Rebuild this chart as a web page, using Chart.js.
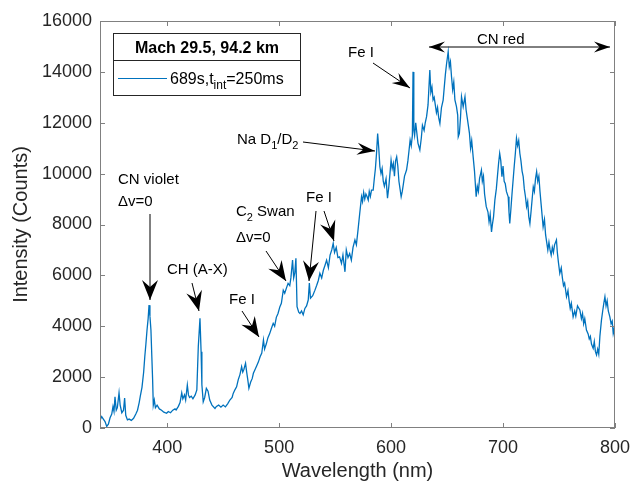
<!DOCTYPE html>
<html>
<head>
<meta charset="utf-8">
<script src="https://cdn.jsdelivr.net/npm/chart.js@4.4.1/dist/chart.umd.min.js"></script>
<style>
  html, body { margin: 0; padding: 0; background: #fff; }
  #wrap { width: 631px; height: 487px; }
</style>
</head>
<body>
<div id="wrap"><canvas id="spectrum" width="631" height="487"></canvas></div>
<script>
// spectrum (nm, counts)
const wavelength = [
  340, 341.5, 343, 344.5, 346, 347.5, 349, 350.5, 351.6, 352.5, 353.4, 354.5, 355.5, 357, 358, 359.5,
  361, 362, 363, 364.5, 366, 368, 370, 372, 373.5, 375, 376, 377.5, 379, 380, 381, 382,
  383, 383.8, 384.6, 385.5, 386.3, 387, 387.6, 388.5, 389.5, 391, 393, 395, 397, 399.5, 401, 403,
  405, 407, 408, 410, 411.5, 413, 414, 415.5, 416.5, 418, 419, 420, 421.5, 423, 425, 426.5,
  427.8, 429.3, 430.3, 431, 432.2, 433.5, 435, 436.5, 438, 440, 442.7, 444, 446, 448, 450, 452,
  454, 456, 458, 459, 460.5, 462, 463.5, 465, 466.5, 467.5, 468.5, 470, 471, 472, 473, 474.5,
  476, 477, 478.5, 480, 481.5, 483, 484.5, 486, 487, 488.5, 490, 491.5, 493, 494.7, 496, 497.5,
  499, 500.7, 502, 503.7, 505, 506.5, 508, 509.5, 510.5, 512, 513, 514, 515, 516, 517.5, 518.6,
  520, 521.5, 523, 524.5, 526, 527, 528, 530, 532, 533.5, 535, 536.4, 538, 539.5, 541, 542.4,
  544, 545.5, 547, 548.3, 549.5, 551, 552.5, 554, 555.7, 557, 558.8, 560, 561.5, 563, 564.5, 566,
  567.7, 569, 570.5, 572, 573.6, 574.5, 575.5, 576.5, 577.5, 578.5, 579.6, 580.5, 581.5, 582.5, 584, 585,
  586, 587, 588, 589, 590, 591, 592, 593, 594, 595.5, 596.8, 598, 599, 600, 601, 602,
  603, 604, 605, 606, 607, 608, 609, 610, 611, 612, 613.8, 615, 616, 617, 618, 619,
  619.6, 620.3, 621, 622, 623, 624, 625.7, 627, 628, 629.5, 630.5, 631.7, 633, 634.6, 635.5, 636.5,
  637.5, 638.5, 639.5, 640.5, 641.5, 642.5, 643.6, 645, 646.5, 647.5, 648.5, 649.5, 651, 652, 653, 654,
  655, 656, 657, 658.4, 659.5, 660, 661, 662, 662.9, 664.4, 666, 667, 668, 669, 670, 671,
  672, 673.3, 674.5, 676, 677, 678, 679, 680.7, 681.5, 682.5, 683.5, 685, 686.5, 687.5, 688.5, 689.7,
  690.5, 691.5, 692.7, 694, 695, 696, 697, 698, 699, 700, 701, 702, 703, 704.6, 705.3, 706,
  707, 708, 709, 710, 711, 712, 713, 714, 715, 716, 717, 718, 719, 720, 721, 722,
  723, 724, 725, 726, 727, 728, 729, 730, 731, 732, 733, 734, 735.8, 737, 738, 739,
  740, 741, 742, 743, 744, 745, 746, 747.7, 748.5, 749.5, 750.7, 752, 753, 754, 755, 756.7,
  758, 759, 760, 761, 762.6, 764, 765, 766.5, 768.6, 770, 771, 772, 773, 774.5, 776, 777,
  778, 779, 780.5, 781.5, 782.5, 783.5, 784.5, 785.5, 786.5, 787.9, 789, 790, 791, 792, 793, 794,
  795.4, 796.5, 797.5, 798.4, 799.2, 800
];
const intensity = [
  300, 450, 350, 250, 60, 150, 400, 550, 840, 650, 1230, 700, 800, 1380, 900, 600,
  700, 1180, 500, 320, 350, 300, 380, 550, 700, 1000, 1250, 1600, 2200, 2800, 3300, 3850,
  4300, 4830, 4400, 3850, 2800, 1900, 900, 1100, 800, 900, 750, 700, 620, 580, 650, 600,
  700, 750, 710, 850, 1000, 1380, 1150, 1300, 1100, 1690, 1300, 1200, 1250, 1150, 1300, 1500,
  3200, 4310, 3000, 1700, 1030, 1200, 1560, 1450, 1100, 900, 770, 850, 900, 820, 900, 830,
  950, 1100, 1200, 1360, 1500, 1620, 1900, 2100, 2410, 2200, 2300, 2540, 2200, 1900, 1560, 1800,
  1950, 2150, 2300, 2450, 2600, 2800, 2950, 3460, 3100, 3300, 3550, 3700, 3900, 4115, 4000, 4350,
  4500, 4770, 4900, 5420, 5300, 5500, 5690, 5600, 5900, 6600, 5900, 6100, 6670, 4770, 4550, 4500,
  4600, 4450, 4700, 4800, 5030, 5700, 5100, 5200, 5420, 5600, 5800, 6080, 5900, 6200, 6400, 6600,
  6300, 6800, 7000, 7260, 6900, 7100, 6700, 6730, 6470, 6800, 6140, 7000, 6700, 6860, 6600, 7100,
  7390, 7200, 7800, 8440, 9090, 8900, 9260, 9000, 9200, 9100, 8960, 9300, 9100, 9350, 9350, 9800,
  10200, 10800, 11580, 11000, 10270, 10000, 10200, 9700, 9500, 9800, 9030, 9500, 10000, 10530, 10200, 10400,
  9900, 10500, 10660, 10300, 9700, 9400, 9090, 9300, 9600, 9900, 10140, 10500, 10900, 11320, 11100, 11500,
  14000, 11700, 11500, 12000, 11600, 11200, 10930, 11400, 11900, 11700, 12000, 12240, 12700, 14070, 13200, 13400,
  12900, 13000, 12700, 12400, 12600, 12200, 11970, 12600, 12890, 13400, 13900, 14300, 14790, 14200, 14400, 13800,
  13300, 13600, 12900, 12630, 12300, 11450, 11580, 12200, 13020, 12630, 13020, 12500, 12200, 11900, 11580, 11000,
  11300, 10660, 10100, 9090, 9500, 9300, 9800, 10140, 9700, 9900, 9200, 8700, 8500, 8100, 8400, 7710,
  8000, 8300, 8960, 9400, 9900, 10400, 10800, 10500, 9880, 10300, 9700, 9600, 9300, 9090, 8500, 8040,
  8600, 9200, 9750, 10300, 10800, 11390, 11100, 11300, 10800, 10500, 10100, 9880, 9400, 9100, 8700, 8900,
  8300, 8040, 8500, 9000, 9480, 9300, 9800, 10080, 9700, 9900, 9300, 8800, 7910, 8200, 7600, 7300,
  7000, 7300, 7000, 6800, 7100, 6900, 7200, 7390, 6900, 6500, 6080, 6300, 5900, 5600, 5700, 5160,
  5400, 5000, 4700, 4900, 4370, 4600, 4400, 4800, 4640, 4300, 4500, 4100, 4300, 3850, 3700, 3500,
  3600, 3300, 3130, 3400, 3000, 2870, 3100, 2900, 3600, 4240, 4600, 4900, 5160, 4800, 5000, 4600,
  4370, 4100, 4200, 3720, 3900, 3460
];
const xTicks = [400, 500, 600, 700, 800];
const yTicks = [0, 2000, 4000, 6000, 8000, 10000, 12000, 14000, 16000];

const FONT = 'Arial, "Liberation Sans", Helvetica, sans-serif';
const LINE = '#0072BD';
const AXIS = '#808080';
const TEXT = '#262626';

function arrow(ctx, x1, y1, x2, y2, len, half) {
  ctx.beginPath();
  ctx.moveTo(x1, y1);
  ctx.lineTo(x2, y2);
  ctx.stroke();
  const a = Math.atan2(y2 - y1, x2 - x1);
  const c = Math.cos(a), s = Math.sin(a);
  const bx = x2 - len * c, by = y2 - len * s;
  const nx = x2 - len * 0.65 * c, ny = y2 - len * 0.65 * s;
  ctx.beginPath();
  ctx.moveTo(x2, y2);
  ctx.lineTo(bx - half * s, by + half * c);
  ctx.lineTo(nx, ny);
  ctx.lineTo(bx + half * s, by - half * c);
  ctx.closePath();
  ctx.fill();
}

// draws text pieces in a row; pieces with sub:true are subscripts
function richText(ctx, x, y, pieces, size) {
  let cx = x;
  pieces.forEach(p => {
    const fs = p.sub ? Math.round(size * 0.72) : size;
    ctx.font = (p.bold ? 'bold ' : '') + fs + 'px ' + FONT;
    ctx.fillText(p.t, cx, p.sub ? y + size * 0.33 : y);
    cx += ctx.measureText(p.t).width;
  });
}

const decorations = {
  id: 'decorations',
  afterDraw(chart) {
    const ctx = chart.ctx;
    const a = chart.chartArea;
    const xs = chart.scales.x, ys = chart.scales.y;
    ctx.save();

    // box and inward ticks
    ctx.strokeStyle = AXIS;
    ctx.lineWidth = 1;
    ctx.strokeRect(a.left + 0.5, a.top + 0.5, a.right - a.left - 1, a.bottom - a.top - 1);
    ctx.beginPath();
    xTicks.forEach(v => {
      const px = Math.round(xs.getPixelForValue(v)) + 0.5;
      ctx.moveTo(px, a.bottom); ctx.lineTo(px, a.bottom - 5);
      ctx.moveTo(px, a.top); ctx.lineTo(px, a.top + 5);
    });
    yTicks.forEach(v => {
      const py = Math.round(ys.getPixelForValue(v)) + 0.5;
      ctx.moveTo(a.left, py); ctx.lineTo(a.left + 5, py);
      ctx.moveTo(a.right, py); ctx.lineTo(a.right - 5, py);
    });
    ctx.stroke();

    // axis titles
    ctx.fillStyle = TEXT;
    ctx.font = '20px ' + FONT;
    ctx.textAlign = 'center';
    ctx.textBaseline = 'middle';
    ctx.fillText('Wavelength (nm)', (a.left + a.right) / 2, 471);
    ctx.save();
    ctx.translate(21, (a.top + a.bottom) / 2);
    ctx.rotate(-Math.PI / 2);
    ctx.fillText('Intensity (Counts)', 0, 0);
    ctx.restore();

    // annotations
    ctx.textAlign = 'left';
    ctx.textBaseline = 'alphabetic';
    ctx.fillStyle = '#000';
    ctx.strokeStyle = '#000';
    ctx.lineWidth = 1;
    const fs = 15;
    richText(ctx, 118, 184, [{t: 'CN violet'}], fs);
    richText(ctx, 118, 206, [{t: '\u0394v=0'}], fs);
    arrow(ctx, 150, 214, 150, 300, 20, 8);

    richText(ctx, 167, 274, [{t: 'CH (A-X)'}], fs);
    arrow(ctx, 192, 283, 199, 311, 20, 8);

    richText(ctx, 229, 304, [{t: 'Fe I'}], fs);
    arrow(ctx, 242, 311, 259, 337, 20, 8);

    richText(ctx, 236, 216, [{t: 'C'}, {t: '2', sub: true}, {t: ' Swan'}], fs);
    richText(ctx, 236, 242, [{t: '\u0394v=0'}], fs);
    arrow(ctx, 266, 251, 286, 281, 20, 8);

    richText(ctx, 306, 202, [{t: 'Fe I'}], fs);
    arrow(ctx, 316, 211, 309, 281, 20, 8);
    arrow(ctx, 324, 211, 334, 241, 20, 8);

    richText(ctx, 237, 144, [{t: 'Na D'}, {t: '1', sub: true}, {t: '/D'}, {t: '2', sub: true}], fs);
    arrow(ctx, 303, 142, 375, 151, 18, 6);

    richText(ctx, 348, 57, [{t: 'Fe I'}], fs);
    arrow(ctx, 373, 63, 410, 88, 18, 6);

    richText(ctx, 477, 44, [{t: 'CN red'}], fs);
    arrow(ctx, 520, 47, 429, 47, 16, 5.5);
    arrow(ctx, 520, 47, 610, 47, 16, 5.5);

    // legend box
    ctx.fillStyle = '#fff';
    ctx.fillRect(113, 33, 187, 62);
    ctx.strokeStyle = TEXT;
    ctx.strokeRect(113.5, 33.5, 187, 62);
    ctx.beginPath();
    ctx.moveTo(113.5, 60.5); ctx.lineTo(300.5, 60.5);
    ctx.stroke();
    ctx.fillStyle = '#000';
    ctx.textAlign = 'center';
    ctx.font = 'bold 16px ' + FONT;
    ctx.fillText('Mach 29.5, 94.2 km', 207, 53);
    ctx.textAlign = 'left';
    ctx.strokeStyle = LINE;
    ctx.beginPath();
    ctx.moveTo(118, 78.5); ctx.lineTo(167, 78.5);
    ctx.stroke();
    richText(ctx, 170, 84, [{t: '689s,t'}, {t: 'int', sub: true}, {t: '=250ms'}], 16);

    ctx.restore();
  }
};

new Chart(document.getElementById('spectrum'), {
  type: 'line',
  data: {
    datasets: [{
      data: wavelength.map((w, i) => ({x: w, y: intensity[i]})),
      borderColor: LINE,
      borderWidth: 1.3,
      pointRadius: 0,
      tension: 0,
      fill: false
    }]
  },
  options: {
    responsive: false,
    animation: false,
    layout: { padding: { top: 21, right: 16, left: 0, bottom: 0 } },
    plugins: { legend: { display: false }, tooltip: { enabled: false } },
    scales: {
      x: {
        type: 'linear',
        min: 340,
        max: 800,
        grid: { display: false, drawTicks: false },
        border: { display: false },
        afterBuildTicks: s => { s.ticks = xTicks.map(v => ({value: v})); },
        afterFit: s => { s.height = 59; s.paddingLeft = 0; s.paddingRight = 0; },
        ticks: { color: TEXT, padding: 9, font: { size: 18, family: FONT }, maxRotation: 0 }
      },
      y: {
        min: 0,
        max: 16000,
        grid: { display: false, drawTicks: false },
        border: { display: false },
        afterBuildTicks: s => { s.ticks = yTicks.map(v => ({value: v})); },
        afterFit: s => { s.width = 100; s.paddingTop = 0; s.paddingBottom = 0; },
        ticks: { color: TEXT, padding: 8, font: { size: 18, family: FONT }, callback: v => String(v) }
      }
    }
  },
  plugins: [decorations]
});
</script>
</body>
</html>
